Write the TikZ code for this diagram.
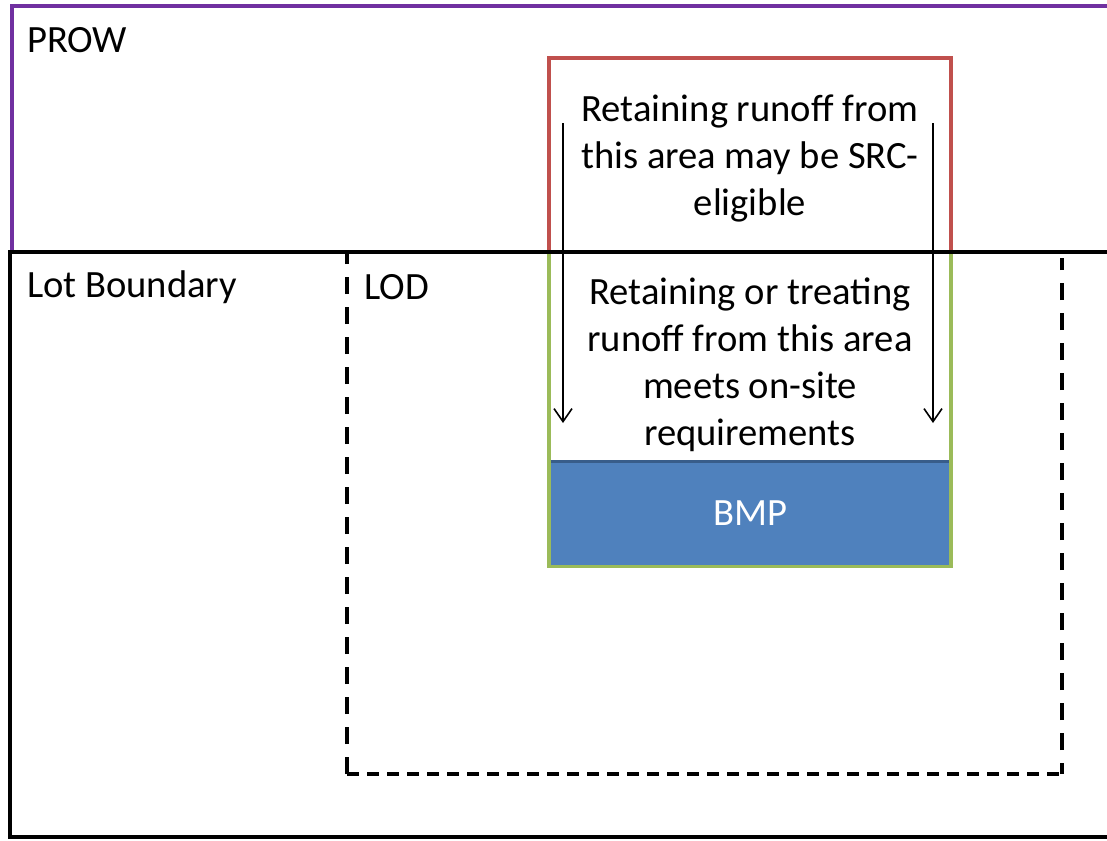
\documentclass[tikz,border=0pt]{standalone}
\usepackage{fontspec}
\setmainfont{Carlito}
\usetikzlibrary{arrows.meta, positioning}
\definecolor{prowpurple}{RGB}{112,48,160}
\definecolor{srcred}{RGB}{192,80,77}
\definecolor{onsitegreen}{RGB}{155,187,89}
\definecolor{bmpblue}{RGB}{79,129,189}
\definecolor{bmpedge}{RGB}{56,93,138}

\begin{document}
\begin{tikzpicture}[x=0.5pt, y=-0.5pt, font=\fontsize{19.3}{23.5}\selectfont]
\useasboundingbox (0,0) rectangle (1107,840);
% SRC area and on-site area
\draw[srcred, line width=2pt] (549,252) |- (951,58) -- (951,252);
\draw[onsitegreen, line width=2pt] (549,252) |- (951,566) -- (951,252);
\node[fill=bmpblue, minimum width=199pt, minimum height=51.5pt, inner sep=0pt, text=white] (bmp) at (750,513.5) {BMP};
\draw[bmpedge, line width=1.5pt] (bmp.north west) -- (bmp.north east);
% PROW and lot boundary
\draw[prowpurple, line width=2pt] (12,252) |- (1107,6);
\draw[line width=2pt] (1107,252) -| (10,837) -- (1107,837);
% LOD
\coordinate (lodNW) at (347,252);
\coordinate (lodSW) at (347,774);
\coordinate (lodSE) at (1062,774);
\coordinate (lodNE) at (1062,258);
\draw[line width=2.2pt, dash pattern=on 8.5pt off 6.5pt] (lodSW) -- (lodNW);
\draw[line width=2.2pt, dash pattern=on 6pt off 4pt] (lodSW) -- (lodSE);
\draw[line width=2.2pt, dash pattern=on 8.5pt off 6.5pt, dash phase=3pt] (lodSE) -- (lodNE);
% labels
\node[anchor=west] (prow) at (20,40) {PROW};
\node[anchor=west] (lot) at (20,287) {Lot Boundary};
\node[anchor=west] (lod) at (357,287) {LOD};
\node[align=center] (srctext) at (750,158) {Retaining runoff from\\this area may be SRC-\\eligible};
\node[align=center] (onsitetext) at (750,364.5) {Retaining or treating\\runoff from this area\\meets on-site\\requirements};
% runoff arrows
\coordinate (topL) at (563,123);
\coordinate (topR) at (933,123);
\coordinate (endL) at (563,423);
\coordinate (endR) at (933,423);
\draw[line width=0.8pt, -{Straight Barb[length=6.5pt, width=9pt]}] (topL) -- (endL);
\draw[line width=0.8pt, -{Straight Barb[length=6.5pt, width=9pt]}] (topR) -- (endR);
\end{tikzpicture}
\end{document}
